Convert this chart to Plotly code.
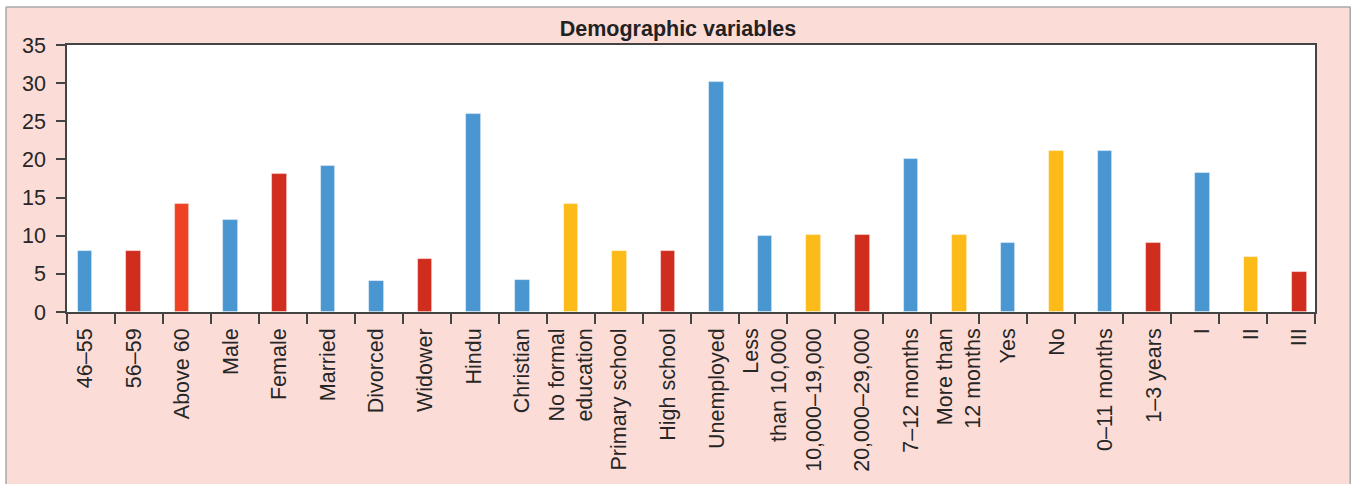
import plotly.graph_objects as go

categories = ["46–55", "56–59", "Above 60", "Male", "Female", "Married", "Divorced",
              "Widower", "Hindu", "Christian", "No formal<br>education", "Primary school",
              "High school", "Unemployed", "Less<br>than 10,000", "10,000–19,000",
              "20,000–29,000", "7–12 months", "More than<br>12 months", "Yes", "No",
              "0–11 months", "1–3 years", "I", "II", "III"]
values = [8.0, 8.0, 14.2, 12.1, 18.1, 19.2, 4.1, 7.0, 26.0, 4.2, 14.2, 8.0, 8.0,
          30.1, 10.0, 10.1, 10.1, 20.1, 10.1, 9.1, 21.1, 21.1, 9.0, 18.2, 7.2, 5.2]
color_keys = ["b", "r", "o", "b", "r", "b", "b", "r", "b", "b", "y", "y", "r",
              "b", "b", "y", "r", "b", "y", "b", "y", "b", "r", "b", "y", "r"]
palette = {"b": "#4A96D1", "r": "#D02D1F", "o": "#EF4123", "y": "#FDBB19"}
y_ticks = [0, 5, 10, 15, 20, 25, 30, 35]

W, H = 1351, 484
L, R, T, B = 67, 1315, 45, 312  # plot area in pixels

x_idx = list(range(len(categories)))
x0, x1 = -0.3705, 25.319
n = len(categories)
boundaries = [x0 + k * (x1 - x0) / n for k in range(n + 1)]

fig = go.Figure()
fig.add_trace(go.Bar(
    x=x_idx, y=values,
    marker=dict(color=[palette[c] for c in color_keys],
                line=dict(color="rgba(255,255,255,0.5)", width=0.8)),
    width=0.3,
    hoverinfo="x+y",
))

def px_x(p):
    return (p - L) / (R - L)

def px_y(p):
    return (B - p) / (B - T)

shapes = [
    # white strips outside the pink frame
    dict(type="rect", xref="paper", yref="paper", x0=px_x(0), x1=px_x(W), y0=px_y(7), y1=px_y(0),
         fillcolor="white", line=dict(width=0), layer="below"),
    dict(type="rect", xref="paper", yref="paper", x0=px_x(0), x1=px_x(6), y0=px_y(H), y1=px_y(0),
         fillcolor="white", line=dict(width=0), layer="below"),
    # frame border
    dict(type="line", xref="paper", yref="paper", x0=px_x(6), x1=px_x(1350.5), y0=px_y(7), y1=px_y(7),
         line=dict(color="#A8A8A8", width=1.5)),
    dict(type="line", xref="paper", yref="paper", x0=px_x(6), x1=px_x(6), y0=px_y(7), y1=px_y(H + 5),
         line=dict(color="#A8A8A8", width=1.5)),
    dict(type="line", xref="paper", yref="paper", x0=px_x(1350.2), x1=px_x(1350.2), y0=px_y(7), y1=px_y(H + 5),
         line=dict(color="#A8A8A8", width=1.5)),
]

axis_color = "#444444"
font_family = "Liberation Sans, Arial, Helvetica, sans-serif"
fs = 21.5

fig.update_layout(
    width=W, height=H,
    margin=dict(l=L, r=W - R, t=T, b=H - B, pad=0),
    paper_bgcolor="#FBDCD7",
    plot_bgcolor="white",
    showlegend=False,
    bargap=0,
    font=dict(family=font_family, color="#262626", size=fs),
    title=dict(text="<b>Demographic variables</b>", x=678 / W, xref="container", xanchor="center",
               y=1 - 28 / H, yref="container", yanchor="middle",
               font=dict(size=fs, color="#222222", family=font_family)),
    shapes=shapes,
    xaxis=dict(
        range=[x0, x1], tickmode="array", tickvals=x_idx, ticktext=categories,
        tickangle=-90, ticks="", showgrid=False, zeroline=False,
        showline=True, linecolor=axis_color, linewidth=1.5, mirror=True,
        tickfont=dict(size=fs, color="#262626"), ticklabelstandoff=6,
        minor=dict(tickmode="array", tickvals=boundaries, ticks="outside", ticklen=10,
                   tickwidth=1.5, tickcolor=axis_color, showgrid=False),
    ),
    yaxis=dict(
        range=[0, 35], tickmode="array", tickvals=y_ticks,
        ticks="outside", ticklen=9, tickwidth=1.5, tickcolor=axis_color,
        showgrid=False, zeroline=False,
        showline=True, linecolor=axis_color, linewidth=1.5, mirror=True,
        tickfont=dict(size=fs, color="#262626"), ticklabelstandoff=6,
    ),
)

fig.write_html(
    "out.html",
    config={"displayModeBar": False},
    post_script="document.body.style.margin='0';document.body.style.overflow='hidden';",
)
